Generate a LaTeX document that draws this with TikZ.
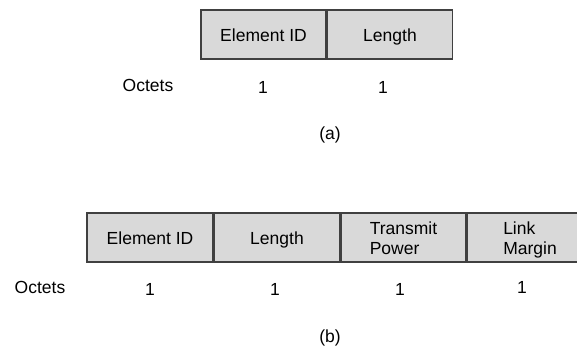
\documentclass[tikz,border=0pt]{standalone}
\usepackage{fontspec}
\setmainfont{Liberation Sans}
\usetikzlibrary{positioning}
\definecolor{cellgray}{HTML}{D9D9D9}
\definecolor{linegray}{HTML}{404040}
\newcommand{\cellstrut}{\rule[-4pt]{0pt}{22pt}}
\newcommand{\toprule}{\rule{0pt}{17pt}}
\newcommand{\botrule}{\rule[-3pt]{0pt}{3pt}}

\begin{document}
\begin{tikzpicture}[
    x=1pt, y=-1pt,
    cell/.style={rectangle, draw=linegray, line width=1.5pt, fill=cellgray,
                 minimum width=125pt, minimum height=49pt, inner sep=0pt,
                 align=left, font=\fontsize{17.5}{20}\selectfont},
    lbl/.style={font=\fontsize{17.5}{20}\selectfont, inner sep=0pt}
  ]
    \clip (0,0) rectangle (577,352);
    \fill[white] (0,0) rectangle (577,352);

    % (a)
    \node[cell] (aid) at (263.5,34.5) {\cellstrut Element ID};
    \node[cell, right=0pt of aid] (alen) {\cellstrut Length};

    \node[lbl] (aoct) at (148,85) {Octets};
    \node[lbl] (aone) at (263,87) {1};
    \node[lbl] (atwo) at (383,87) {1};
    \node[lbl] (acap) at (330,135) {(a)};

    % (b)
    \node[cell, minimum width=126pt] (bid) at (150,237.5) {\cellstrut Element ID};
    \node[cell, right=0pt of bid] (blen) {\cellstrut Length};
    \node[cell, right=0pt of blen] (bpow) {\toprule Transmit\\Power\botrule};
    \node[cell, right=0pt of bpow] (bmar) {\toprule Link\\Margin\botrule};

    \node[lbl] (boct) at (40,287) {Octets};
    \node[lbl] (bone) at (150,289) {1};
    \node[lbl] (btwo) at (275,289) {1};
    \node[lbl] (bthr) at (400,289) {1};
    \node[lbl] (bfou) at (522,287) {1};
    \node[lbl] (bcap) at (330,338) {(b)};
  \end{tikzpicture}
\end{document}
